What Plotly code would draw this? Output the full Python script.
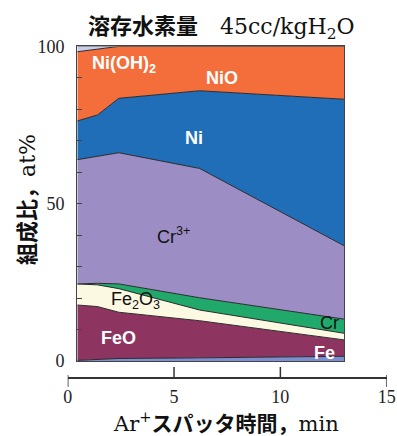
import plotly.graph_objects as go

# Sputtering time (min) at which the depth profile was sampled
time_min = [0.45, 1.4, 2.4, 6.2, 13.0]

# Composition of each species, at% (stacked bottom to top)
fe = [0.2, 0.4, 0.8, 1.0, 1.5]
feo = [17.6, 16.9, 14.7, 11.8, 5.2]
fe2o3 = [6.7, 6.9, 7.5, 3.4, 2.1]
cr = [0.0, 0.5, 1.5, 3.9, 4.5]
cr3 = [39.5, 40.3, 41.7, 41.1, 23.3]
ni = [12.3, 13.2, 17.3, 24.7, 46.6]
ni_ox = [22.0, 21.0, 16.5, 14.1, 16.8]   # Ni(OH)2 + NiO
other = [1.7, 0.8, 0.0, 0.0, 0.0]

series = [
    ("Fe", fe, "#7b8fd2"),
    ("FeO", feo, "#8e3460"),
    ("Fe2O3", fe2o3, "#fcf9e2"),
    ("Cr", cr, "#20a96b"),
    ("Cr3+", cr3, "#9c8ec4"),
    ("Ni", ni, "#1f6eb7"),
    ("Ni(OH)2/NiO", ni_ox, "#f36e3a"),
    ("other", other, "#c8cde9"),
]

x_ticks = [0, 5, 10, 15]

W, H = 397, 436


def px(v):
    return v / W


def py(v):
    return (H - v) / H


SERIF = "Liberation Serif"
DSERIF = "DejaVu Serif"
CJK = "Noto Sans CJK JP"
SANS = "Liberation Sans"

fig = go.Figure()
for name, vals, color in series:
    fig.add_trace(go.Scatter(
        x=time_min, y=vals, name=name, mode="lines",
        stackgroup="one", fillcolor=color,
        line=dict(color="#2b2b2b", width=1),
        hoverinfo="skip", showlegend=False,
    ))

# helper trace so the separate time axis below the frame is drawn
fig.add_trace(go.Scatter(x=[x_ticks[0], x_ticks[-1]], y=[None, None],
                         xaxis="x2", yaxis="y", mode="lines",
                         showlegend=False, hoverinfo="skip"))

x_dom = [px(77.3), px(344.3)]
y_dom = [py(361), py(46.4)]

fig.update_layout(
    width=W, height=H,
    margin=dict(l=0, r=0, t=0, b=0),
    paper_bgcolor="white", plot_bgcolor="rgba(0,0,0,0)",
    xaxis=dict(domain=x_dom, range=[time_min[0], time_min[-1]],
               showline=True, mirror=True, linecolor="#444", linewidth=1.3,
               showgrid=False, zeroline=False, showticklabels=False,
               ticks="", automargin=False, fixedrange=True),
    yaxis=dict(domain=y_dom, range=[0, 100], tick0=0, dtick=50,
               showline=True, mirror=True, linecolor="#444", linewidth=1.3,
               showgrid=False, zeroline=False,
               ticks="inside", ticklen=5, tickcolor="#444", tickwidth=1,
               minor=dict(dtick=10, ticks="inside", ticklen=5,
                          tickcolor="#444", tickwidth=1, showgrid=False),
               tickfont=dict(family=SERIF, size=18, color="#222"),
               ticklabelstandoff=8, automargin=False, fixedrange=True),
    xaxis2=dict(domain=[px(67.7), px(386.7)], range=[0, 15],
                anchor="free", position=py(377.7),
                showline=True, linecolor="#333", linewidth=1.5,
                showgrid=False, zeroline=False, ticks="",
                tickmode="array", tickvals=x_ticks,
                tickfont=dict(family=SERIF, size=18, color="#222"),
                ticklabelstandoff=3, automargin=False, fixedrange=True),
)

# tick marks of the time axis: end caps hang below, inner ticks rise above
for t in x_ticks:
    if t in (x_ticks[0], x_ticks[-1]):
        y0, y1 = py(387), py(375)
    else:
        y0, y1 = py(377.7), py(367)
    fig.add_shape(type="line", xref="x2", yref="paper", x0=t, x1=t,
                  y0=y0, y1=y1, line=dict(color="#333", width=1.5))

# species labels inside the bands
labels = [
    ("Ni(OH)<sub>2</sub>", 2.64, 94.2, "white", True),
    ("NiO", 7.25, 89.9, "white", True),
    ("Ni", 5.92, 71.0, "white", True),
    ("Cr<sup>3+</sup>", 4.98, 40.0, "#111", False),
    ("Fe<sub>2</sub>O<sub>3</sub>", 3.19, 19.2, "#111", False),
    ("FeO", 2.40, 7.2, "white", True),
    ("Cr", 12.31, 12.0, "#111", False),
    ("Fe", 12.06, 2.7, "white", True),
]
for text, lx, ly, color, bold in labels:
    fig.add_annotation(
        x=lx, y=ly, xref="x", yref="y", text=(f"<b>{text}</b>" if bold else text),
        showarrow=False, xanchor="center", yanchor="middle",
        font=dict(family=SANS, size=18, color=color),
    )

# heading
fig.add_annotation(
    x=px(86), y=py(25), xref="paper", yref="paper", xanchor="left", yanchor="middle",
    showarrow=False,
    text=(f"<span style='font-family:\"{CJK}\";font-weight:bold'>溶存水素量　</span>"
          f"<span style='font-family:\"{DSERIF}\"'>45cc/kgH<sub>2</sub>O</span>"),
    font=dict(family=CJK, size=22, color="#111"),
)

# time axis title
fig.add_annotation(
    x=px(226), y=py(422), xref="paper", yref="paper", xanchor="center", yanchor="middle",
    showarrow=False,
    text=(f"<span style='font-family:\"{DSERIF}\"'>Ar<sup>+</sup></span>"
          f"<span style='font-family:\"{CJK}\";font-weight:bold'>スパッタ時間，</span>"
          f"<span style='font-family:\"{DSERIF}\"'>min</span>"),
    font=dict(family=CJK, size=21, color="#111"),
)

# composition axis title
fig.add_annotation(
    x=px(25), y=py(200), xref="paper", yref="paper", xanchor="center", yanchor="middle",
    showarrow=False, textangle=-90,
    text=(f"<span style='font-family:\"{CJK}\";font-weight:bold'>組成比，</span>"
          f"<span style='font-family:\"{DSERIF}\"'>at%</span>"),
    font=dict(family=CJK, size=22, color="#111"),
)

fig.write_html("out.html")
